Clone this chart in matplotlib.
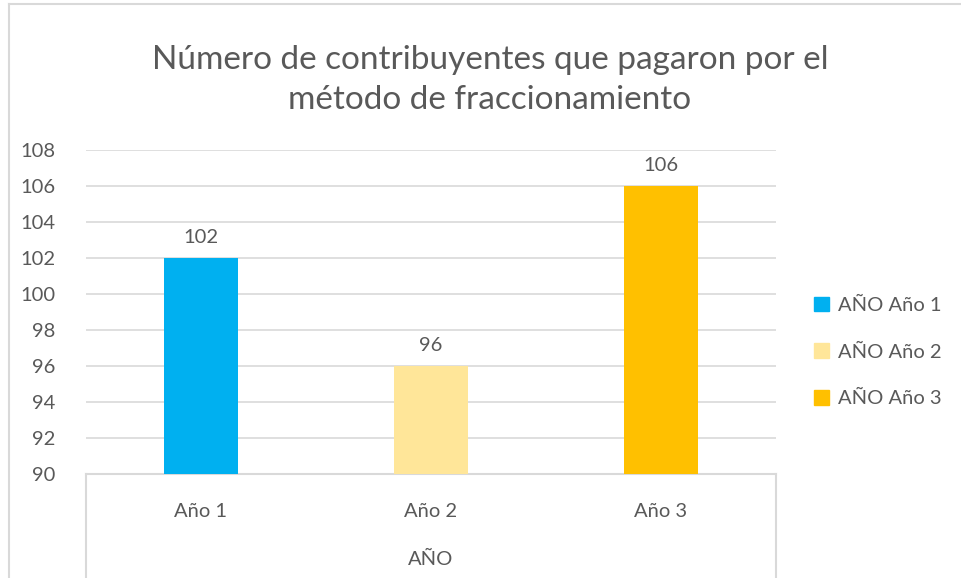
import matplotlib
matplotlib.use("Agg")
import matplotlib.pyplot as plt
from matplotlib.patches import Patch

# data
categorias = ["Año 1", "Año 2", "Año 3"]
valores = [102, 96, 106]
colores = ["#00B0F0", "#FFE699", "#FFC000"]
grupo = "AÑO"
titulo = "Número de contribuyentes que pagaron por el\nmétodo de fraccionamiento"

plt.rcParams['font.family'] = ['Lato', 'DejaVu Sans']
gris = "#595959"
linea = "#D9D9D9"
fs = 14.5

fig = plt.figure(figsize=(9.61, 5.78), dpi=100)
ax = fig.add_axes([86 / 961, 104 / 578, 690 / 961, 324 / 578])

x = range(len(categorias))
barras = ax.bar(x, valores, width=0.32, color=colores, zorder=3)
for b, v in zip(barras, valores):
    ax.text(b.get_x() + b.get_width() / 2, v + 0.65, str(v), ha="center", va="bottom",
            fontsize=fs, color=gris)

ax.set_ylim(90, 108)
ax.set_xlim(-0.5, 2.5)
ax.set_yticks(range(90, 109, 2))
ax.yaxis.grid(True, color=linea, linewidth=1.2, zorder=0)
ax.tick_params(axis="y", length=0, pad=22, labelsize=fs, labelcolor=gris)
ax.set_xticks(list(x))
ax.set_xticklabels(categorias)
ax.tick_params(axis="x", length=0, pad=21, labelsize=fs, labelcolor=gris)
ax.set_xlabel(grupo, fontsize=fs, color=gris, labelpad=22)

for s in ["top", "right", "left"]:
    ax.spines[s].set_visible(False)
ax.spines["bottom"].set_color(linea)
ax.spines["bottom"].set_linewidth(1.5)

# multi-level category box lines
for xx in [0, 1]:
    ax.plot([xx, xx], [0, -0.33], transform=ax.transAxes, color=linea, lw=1.5, clip_on=False)

fig.text(490 / 961, 1 - 80 / 578, titulo, ha="center", va="center", fontsize=24,
         color=gris, linespacing=1.4)

handles = [Patch(color=c, label=grupo + " " + cat) for c, cat in zip(colores, categorias)]
fig.legend(handles=handles, loc="center left", bbox_to_anchor=(0.828, 1 - 352 / 578), frameon=False,
           fontsize=fs, labelcolor=gris, handlelength=0.75, handleheight=0.75,
           handletextpad=0.45, labelspacing=1.45)

# chart border
fig.add_artist(plt.Line2D([9 / 961, 9 / 961], [0, 1 - 4 / 578], color=linea, lw=1.5))
fig.add_artist(plt.Line2D([9 / 961, 1], [1 - 4 / 578, 1 - 4 / 578], color=linea, lw=1.5))

fig.savefig("out.png", dpi=100)
